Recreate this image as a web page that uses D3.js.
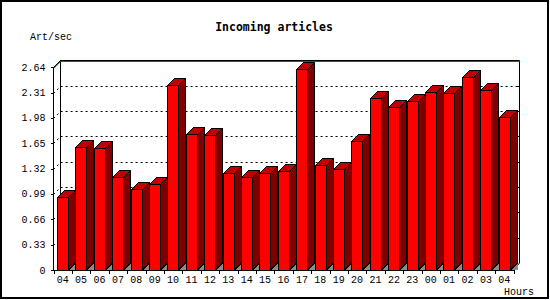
<!DOCTYPE html>
<html>
<head>
<meta charset="utf-8">
<script src="https://cdn.jsdelivr.net/npm/d3@7"></script>
<style>
  html, body { margin: 0; padding: 0; background: #fff; }
  svg { display: block; }
  text { font-family: "Liberation Mono", "DejaVu Sans Mono", monospace; }
  text.title { font-family: "DejaVu Sans Mono", monospace; }
</style>
</head>
<body>
<svg id="chart" width="550" height="300"></svg>
<script>
// ---- data ----
const categories = ["04","05","06","07","08","09","10","11","12","13","14","15","16","17","18","19","20","21","22","23","00","01","02","03","04"];
const values = [0.945,1.596,1.592,1.205,1.058,1.115,2.415,1.765,1.752,1.257,1.205,1.266,1.292,2.623,1.370,1.309,1.674,2.246,2.129,2.207,2.324,2.311,2.519,2.350,1.999];
const yTicks = [0,0.33,0.66,0.99,1.32,1.65,1.98,2.31,2.64];
const yTickLabels = ["0","0.33","0.66","0.99","1.32","1.65","1.98","2.31","2.64"];
const title = "Incoming articles";
const yTitle = "Art/sec";
const xTitle = "Hours";

(function () {
// ---- layout ----
const W = 550, H = 300;
const pLeft = 53.5, pRight = 513.5, pBottom = 270, pTop = 67.3;
const D = 7; // 3D depth

const svg = d3.select("#chart");
svg.append("rect").attr("x", 0).attr("y", 0).attr("width", W).attr("height", H).attr("fill", "#fff");

const x = d3.scaleBand().domain(d3.range(categories.length)).range([pLeft, pRight]);
const y = d3.scaleLinear().domain([0, 2.64]).range([pBottom, pTop]);
const bw = x.bandwidth();

const g = svg.append("g");
yTicks.slice(1, -1).forEach(t => {
  const yy = Math.round(y(t)) + 0.5;
  g.append("path")
    .attr("d", `M${pLeft},${yy} L${pLeft + D},${yy - D} L${pRight + D - 1},${yy - D}`)
    .attr("fill", "none").attr("stroke", "#000").attr("stroke-width", 1)
    .attr("stroke-dasharray", "2,3");
  g.append("line").attr("x1", pRight + D - 4).attr("x2", pRight + D - 1)
    .attr("y1", yy - D).attr("y2", yy - D).attr("stroke", "#000");
});

const yTop = Math.round(y(2.64)) + 0.5;
const yBot = pBottom;
g.append("line").attr("x1", pLeft + D).attr("x2", pLeft + D).attr("y1", yTop - D).attr("y2", yBot - D).attr("stroke", "#000");
g.append("line").attr("x1", pRight + D - 1).attr("x2", pRight + D - 1).attr("y1", yTop - D).attr("y2", yBot - D).attr("stroke", "#000");
g.append("path").attr("d", `M${pLeft},${yTop} L${pLeft + D},${yTop - D} L${pRight + D - 1},${yTop - D}`)
  .attr("fill", "none").attr("stroke", "#000");
g.append("path").attr("d", `M${pLeft},${yTop + 1} L${pLeft + D},${yTop - D + 1} L${pRight + D - 1},${yTop - D + 1}`)
  .attr("fill", "none").attr("stroke", "#f00");
g.append("line").attr("x1", pRight).attr("y1", pBottom).attr("x2", pRight + D - 1).attr("y2", pBottom - D).attr("stroke", "#000");

// ---- bars ----
const bars = svg.append("g").attr("stroke", "#000").attr("stroke-width", 1).attr("shape-rendering", "crispEdges");
const off = bw * 0.19, fw = bw * 0.6;
values.forEach((v, i) => {
  const x0 = Math.round(x(i) + off) + 0.5;
  const x1 = Math.round(x(i) + off + fw) + 0.5;
  const yt = Math.round(y(v)) + 0.5;
  const yb = pBottom;
  bars.append("path").attr("d", `M${x1},${yb} L${x1 + D},${yb - D} L${x1 + D},${yb} Z`)
    .attr("fill", "#8c8c8c").attr("stroke", "none");
  bars.append("path").attr("d", `M${x1},${yt} L${x1 + D},${yt - D} L${x1 + D},${yb - D} L${x1},${yb} Z`)
    .attr("fill", "#800000");
  bars.append("path").attr("d", `M${x0},${yt} L${x0 + D},${yt - D} L${x1 + D},${yt - D} L${x1},${yt} Z`)
    .attr("fill", "#c00000");
  bars.append("rect").attr("x", x0).attr("y", yt).attr("width", x1 - x0).attr("height", yb - yt)
    .attr("fill", "#ff0000");
});

// ---- axes ----
const ax = svg.append("g").attr("stroke", "#000").attr("shape-rendering", "crispEdges");
ax.append("line").attr("x1", pLeft).attr("x2", pLeft).attr("y1", pTop).attr("y2", pBottom);
ax.append("line").attr("x1", pLeft).attr("x2", pRight).attr("y1", pBottom).attr("y2", pBottom);
yTicks.forEach(t => {
  const yy = Math.round(y(t)) + 0.5;
  ax.append("line").attr("x1", pLeft - 3).attr("x2", pLeft).attr("y1", yy).attr("y2", yy);
});
d3.range(categories.length + 1).forEach(i => {
  const xx = Math.round(pLeft + i * bw) + 0.5;
  ax.append("line").attr("x1", xx).attr("x2", xx).attr("y1", pBottom).attr("y2", pBottom + 4);
});

svg.append("g").selectAll("text").data(yTicks).join("text")
  .attr("x", 45.5).attr("y", d => y(d) + 3.5)
  .attr("text-anchor", "end").attr("font-size", 10).attr("fill", "#000")
  .text((d, i) => yTickLabels[i]);

svg.append("g").selectAll("text").data(categories).join("text")
  .attr("x", (d, i) => x(i) + bw / 2).attr("y", 283)
  .attr("text-anchor", "middle").attr("font-size", 10).attr("fill", "#000")
  .text(d => d);

svg.append("text").attr("class", "title").attr("x", 274).attr("y", 31).attr("text-anchor", "middle")
  .attr("font-size", 11.5).attr("font-weight", "bold").attr("fill", "#000").text(title);
svg.append("text").attr("x", 30).attr("y", 40).attr("font-size", 10).attr("fill", "#000").text(yTitle);
svg.append("text").attr("x", 534).attr("y", 295).attr("text-anchor", "end").attr("font-size", 10).attr("fill", "#000").text(xTitle);

svg.append("rect").attr("x", 1).attr("y", 1).attr("width", 547).attr("height", 297)
  .attr("fill", "none").attr("stroke", "#000").attr("stroke-width", 2);
})();
</script>
</body>
</html>
